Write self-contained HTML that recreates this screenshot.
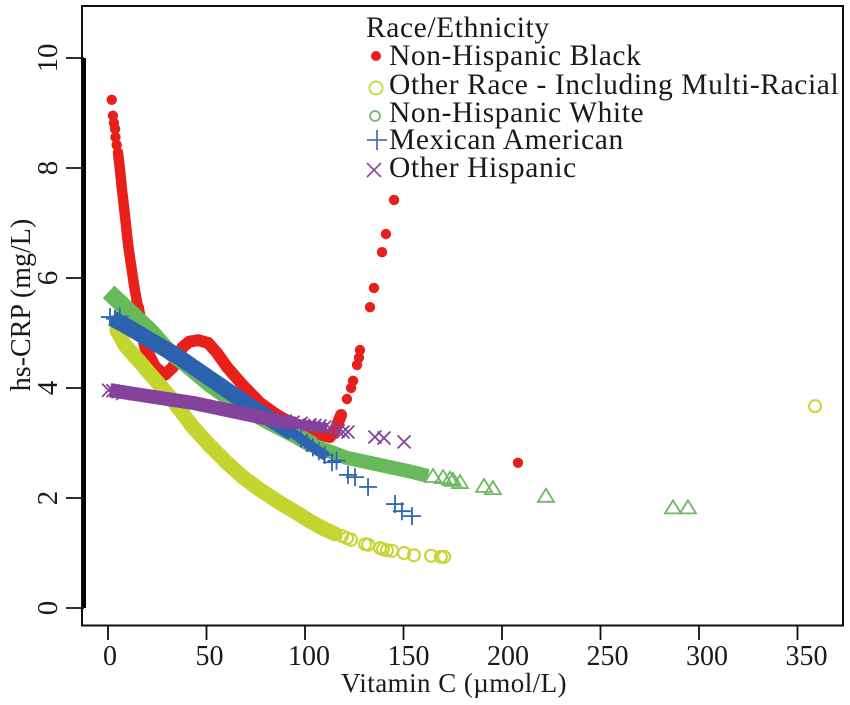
<!DOCTYPE html>
<html>
<head>
<meta charset="utf-8">
<title>hs-CRP vs Vitamin C by Race/Ethnicity</title>
<style>
html,body{margin:0;padding:0;background:#fff;}
svg{display:block;font-family:"Liberation Serif",serif;fill:#1a1a1a;}
.leg{font-size:29.5px;letter-spacing:.6px;}
.tick{font-size:28px;}
.ytick{font-size:29px;}
.title{font-size:27px;letter-spacing:.45px;}
.ytitle{font-size:28px;}
</style>
</head>
<body>
<svg id="chart" width="850" height="705" viewBox="0 0 850 705" xmlns="http://www.w3.org/2000/svg">
  <rect x="82" y="6" width="761" height="619.5" fill="none" stroke="#111" stroke-width="2"/>
  <line x1="84" y1="58" x2="84" y2="608" stroke="#000" stroke-width="4"/>
  <g id="axes"></g>
  <g id="marks"></g>
  <text class="title" x="454" y="692" text-anchor="middle">Vitamin C (µmol/L)</text>
  <text class="ytitle" transform="translate(30,305) rotate(-90)" text-anchor="middle">hs-CRP (mg/L)</text>
  <g>
    <text class="leg" x="366" y="37">Race/Ethnicity</text>
    <circle cx="376" cy="56" r="5" fill="#e8201c"/>
    <text class="leg" x="389" y="65">Non-Hispanic Black</text>
    <circle cx="376" cy="88" r="6.5" fill="none" stroke="#c9da3c" stroke-width="2"/>
    <text class="leg" x="389" y="94">Other Race - Including Multi-Racial</text>
    <circle cx="375" cy="116" r="5" fill="none" stroke="#6fbb66" stroke-width="1.8"/>
    <text class="leg" x="389" y="122">Non-Hispanic White</text>
    <path d="M367 140H387M377 130V150" fill="none" stroke="#4a78b8" stroke-width="1.8"/>
    <text class="leg" x="389" y="149">Mexican American</text>
    <path d="M367 163L381 177M381 163L367 177" fill="none" stroke="#8a4fa3" stroke-width="1.8"/>
    <text class="leg" x="389" y="177">Other Hispanic</text>
  </g>
</svg>
<script>
const xTicks = [0, 50, 100, 150, 200, 250, 300, 350];
const yTicks = [0, 2, 4, 6, 8, 10];

const blackBandX = [5.1,6.1,7.1,8.6,10.2,11.7,13.2,15.2,18.8,23.9,28.9,33,37.6,41.1,45.7,50.8,55.3,60.4,68.5,77.2,85.8,94.9,105.1,112.7,115.7,118.3];
const blackBandY = [8.28,7.96,7.6,7.15,6.6,6.24,5.87,5.47,4.75,4.38,4.24,4.38,4.73,4.84,4.87,4.82,4.64,4.38,4.05,3.73,3.51,3.33,3.18,3.11,3.27,3.51];
const blackPointX = [1.9,2.5,3.0,3.6,3.8,4.4,121.3,123.4,124.4,126.4,127.4,127.9,133,135,139.1,141.1,145.2,208.1];
const blackPointY = [9.24,8.95,8.82,8.71,8.56,8.42,3.8,4.0,4.13,4.42,4.55,4.69,5.47,5.82,6.47,6.8,7.42,2.64];

const otherRaceBandX = [4.5,8.6,16.2,23.9,31.5,43.1,51.8,60.4,68.5,77.2,87.3,95.9,102.5,109.1,115.2];
const otherRaceBandY = [5.05,4.78,4.47,4.15,3.84,3.29,2.95,2.64,2.38,2.15,1.91,1.73,1.58,1.45,1.35];
const otherRacePointX = [115.2,118.8,121.3,123.4,130.5,132,138.1,139.6,141.6,144.2,150.3,155.3,164,169.0,170.6,358.9];
const otherRacePointY = [1.35,1.31,1.27,1.24,1.16,1.15,1.09,1.07,1.05,1.04,1.0,0.96,0.95,0.93,0.93,3.67];

const whiteBandX = [0.3,11.2,21.3,29.5,40.1,51.8,67,82.2,94.9,104.1,121.3,138.1,154.8,162.4];
const whiteBandY = [5.75,5.38,5.04,4.71,4.42,4.07,3.69,3.38,3.15,2.96,2.73,2.6,2.47,2.4];
const whitePointX = [165,170.1,173.6,175.1,178.7,190.9,195.4,222.3,286.8,294.4];
const whitePointY = [2.4,2.38,2.35,2.33,2.29,2.22,2.18,2.04,1.83,1.83];

const mexicanBandX = [2,11.2,21.3,36.5,60.4,77.2,93.9,105.1,111.2];
const mexicanBandY = [5.27,5.09,4.87,4.55,3.96,3.55,3.18,2.89,2.75];
const mexicanPointX = [1,3.5,6,9,98,101,104,107,110,113.7,116,121.8,125.4,132,145.7,149.2,154.3];
const mexicanPointY = [5.29,5.26,5.3,5.14,3.08,3.0,2.92,2.85,2.78,2.65,2.68,2.42,2.38,2.2,1.89,1.76,1.67];

const hispanicBandX = [1,43.1,77.2,93.9,111.2];
const hispanicBandY = [3.96,3.73,3.47,3.36,3.27];
const hispanicPointX = [0.3,2.5,5.1,7.5,90,94,98,102.5,105,107.6,110,112.7,116.8,119.3,121.8,135.5,140.1,150.3];
const hispanicPointY = [3.96,3.95,3.93,3.9,3.4,3.38,3.36,3.33,3.32,3.31,3.29,3.27,3.22,3.2,3.2,3.11,3.09,3.02];

const NS = 'http://www.w3.org/2000/svg';
const xScale = v => 108 + 1.97 * v;
const xLabelPos = v => 110 + 1.99 * v;
const yScale = v => 608 - 55 * v;
const axes = document.getElementById('axes');
const marks = document.getElementById('marks');

function make(tag, attrs, parent) {
  const el = document.createElementNS(NS, tag);
  for (const k in attrs) el.setAttribute(k, attrs[k]);
  parent.appendChild(el);
  return el;
}

xTicks.forEach(v => {
  const t = make('line', {x1: xScale(v), x2: xScale(v), y1: 625, y2: 640, stroke: '#111', 'stroke-width': 1.8}, axes);
  
  
  const l = make('text', {x: xLabelPos(v), y: 665, 'text-anchor': 'middle', class: 'tick'}, axes);
  
  
  l.textContent = v;
});

yTicks.forEach(v => {
  const t = make('line', {x1: 66, x2: 84, y1: yScale(v), y2: yScale(v), stroke: '#111', 'stroke-width': 1.8}, axes);
  
  
  const l = make('text', {transform: 'translate(57,' + yScale(v) + ') rotate(-90)', 'text-anchor': 'middle', class: 'ytick'}, axes);
  
  
  l.textContent = v;
});

function band(xs, ys, color, width, cap, name) {
  const d = xs.map((v, i) => (i ? 'L' : 'M') + xScale(v).toFixed(1) + ' ' + yScale(ys[i]).toFixed(1)).join('');
  const p = make('path', {d: d, fill: 'none', stroke: color, 'stroke-width': width, 'stroke-linejoin': 'round', 'stroke-linecap': cap}, marks);
  
  
}

function dots(xs, ys) {
  xs.forEach((v, i) => {
    const c = make('circle', {cx: xScale(v), cy: yScale(ys[i]), r: 5.2, fill: '#e8201c'}, marks);
    
    
  });
}

function rings(xs, ys) {
  xs.forEach((v, i) => {
    const c = make('circle', {cx: xScale(v), cy: yScale(ys[i]), r: 6, fill: 'none', stroke: '#c4d632', 'stroke-width': 2}, marks);
    
    
  });
}

function triangles(xs, ys) {
  xs.forEach((v, i) => {
    const x = xScale(v), y = yScale(ys[i]);
    const p = make('path', {d: 'M' + (x - 8) + ' ' + (y + 6) + 'L' + x + ' ' + (y - 7) + 'L' + (x + 8) + ' ' + (y + 6) + 'Z', fill: 'none', stroke: '#6cb962', 'stroke-width': 1.8}, marks);
    
    
  });
}

function pluses(xs, ys) {
  xs.forEach((v, i) => {
    const x = xScale(v), y = yScale(ys[i]);
    const p = make('path', {d: 'M' + (x - 9) + ' ' + y + 'H' + (x + 9) + 'M' + x + ' ' + (y - 9) + 'V' + (y + 9), fill: 'none', stroke: '#2f66b2', 'stroke-width': 1.8}, marks);
    
    
  });
}

function crosses(xs, ys) {
  xs.forEach((v, i) => {
    const x = xScale(v), y = yScale(ys[i]);
    const p = make('path', {d: 'M' + (x - 6.5) + ' ' + (y - 6.5) + 'L' + (x + 6.5) + ' ' + (y + 6.5) + 'M' + (x + 6.5) + ' ' + (y - 6.5) + 'L' + (x - 6.5) + ' ' + (y + 6.5), fill: 'none', stroke: '#84429c', 'stroke-width': 1.8}, marks);
    
    
  });
}

band(blackBandX.slice(0, 8), blackBandY.slice(0, 8), '#e8201c', 10.5, 'round', 'non-hispanic-black-band-upper');
band(blackBandX.slice(7), blackBandY.slice(7), '#e8201c', 12, 'round', 'non-hispanic-black-band-lower');
dots(blackPointX, blackPointY);
band(otherRaceBandX, otherRaceBandY, '#c3d52e', 15, 'round', 'other-race-band');
rings(otherRacePointX, otherRacePointY);
band(whiteBandX.slice(0, 10), whiteBandY.slice(0, 10), '#68b85c', 17, 'butt', 'non-hispanic-white-band-left');
band(whiteBandX.slice(9), whiteBandY.slice(9), '#68b85c', 14, 'butt', 'non-hispanic-white-band-right');
triangles(whitePointX, whitePointY);
band(mexicanBandX.slice(0, 7), mexicanBandY.slice(0, 7), '#2a62b0', 16, 'butt', 'mexican-american-band-left');
band(mexicanBandX.slice(6), mexicanBandY.slice(6), '#2a62b0', 10, 'butt', 'mexican-american-band-right');
pluses(mexicanPointX, mexicanPointY);
band(hispanicBandX.slice(0, 4), hispanicBandY.slice(0, 4), '#84429c', 14, 'butt', 'other-hispanic-band-left');
band(hispanicBandX.slice(3), hispanicBandY.slice(3), '#84429c', 10, 'butt', 'other-hispanic-band-right');
crosses(hispanicPointX, hispanicPointY);
</script>
</body>
</html>
